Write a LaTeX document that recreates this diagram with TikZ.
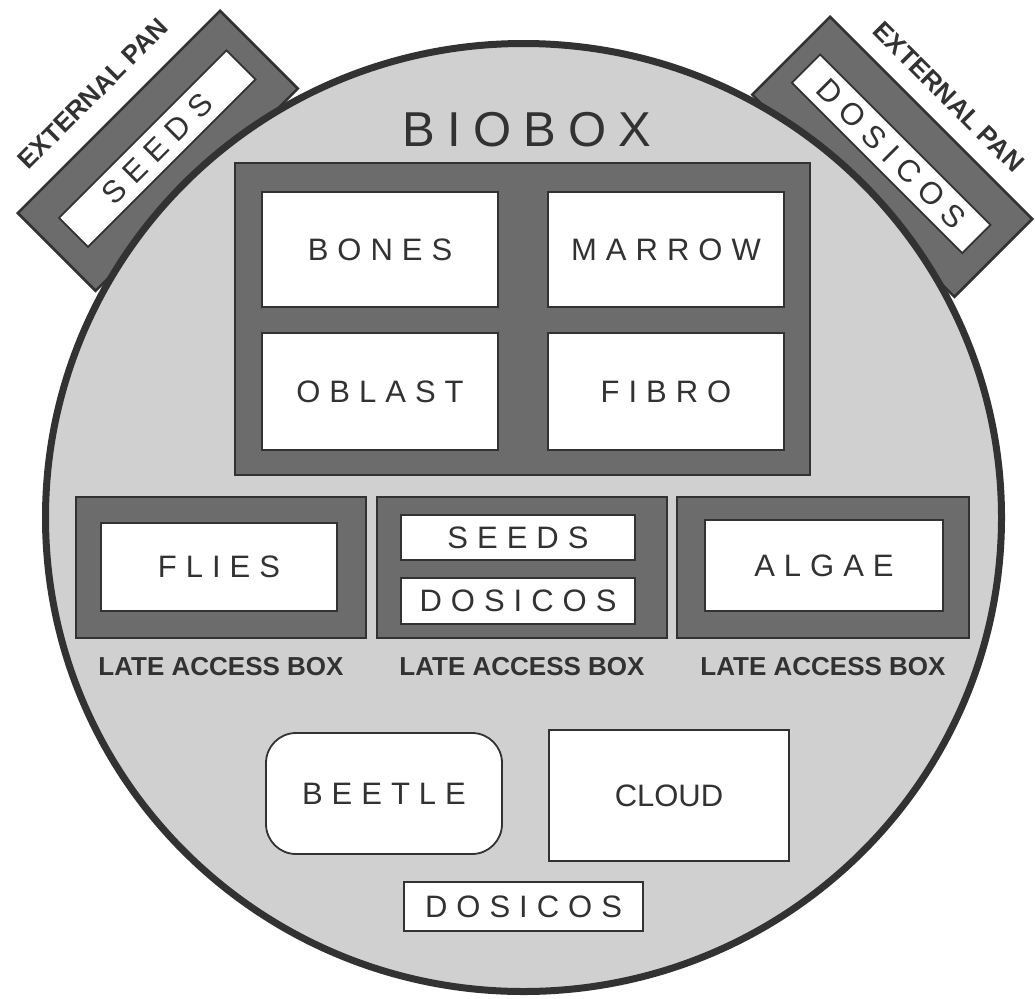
\documentclass[tikz,border=0pt]{standalone}
\usepackage{fontspec}
\setmainfont{Liberation Sans}
\newfontfamily\slotfont[LetterSpace=29]{Liberation Sans}
\newfontfamily\titlefont[LetterSpace=25]{Liberation Sans}
\usetikzlibrary{positioning}
\definecolor{discgray}{RGB}{208,208,208}
\definecolor{framegray}{RGB}{108,108,108}
\definecolor{inkgray}{RGB}{50,50,50}

\begin{document}
\begin{tikzpicture}[x=1pt, y=-1pt,
        disc/.style={draw=inkgray, line width=7pt, fill=discgray},
        frame/.style={rectangle, draw=inkgray, line width=2.5pt, fill=framegray, inner sep=0pt},
        slot/.style={rectangle, draw=inkgray, line width=1.8pt, fill=white, inner sep=0pt,
                     text=inkgray, font=\slotfont\fontsize{31}{31}\selectfont},
        tag/.style={inner sep=0pt, text=inkgray, font=\fontsize{26}{26}\selectfont\bfseries}
      ]
        \useasboundingbox (0,0) rectangle (1035,998);

        % external pans, partly hidden by the disc
        \begin{scope}[shift={(16,213)}, rotate=45, transform shape]
          \node[frame, anchor=north west, minimum width=286, minimum height=110] (leftpan) at (0,0) {};
          \node[slot, anchor=north west, minimum width=237, minimum height=41] (leftslot) at (26,33) {SEEDS};
          \node[tag] (leftname) at (139,-30) {EXTERNAL PAN};
        \end{scope}
        \begin{scope}[shift={(830,15)}, rotate=-45, transform shape]
          \node[frame, anchor=north west, minimum width=286, minimum height=110] (rightpan) at (0,0) {};
          \node[slot, anchor=north west, minimum width=241, minimum height=40] (rightslot) at (20,34) {DOSICOS};
          \node[tag] (rightname) at (142,-26) {EXTERNAL PAN};
        \end{scope}

        \draw[disc] (523.5,517.5) ellipse [x radius=478, y radius=474];
        \node[text=inkgray, font=\titlefont\fontsize{49}{49}\selectfont] (title) at (527,130) {BIOBOX};

        \node[frame, minimum width=575, minimum height=312] (core) at (522.5,319) {};
        \node[slot, minimum width=236, minimum height=115] (bones) at (380,249.5) {BONES};
        \node[slot, minimum width=236, minimum height=115] (marrow) at (666,249.5) {MARROW};
        \node[slot, minimum width=236, minimum height=117] (oblast) at (380,391.5) {OBLAST};
        \node[slot, minimum width=236, minimum height=117] (fibro) at (666,391.5) {FIBRO};

        \node[frame, minimum width=290, minimum height=141] (leftlate) at (221,567.5) {};
        \node[slot, minimum width=236, minimum height=88] (flies) at (219,567) {FLIES};
        \node[frame, minimum width=290, minimum height=141] (midlate) at (522,567.5) {};
        \node[slot, minimum width=234, minimum height=45] (midseeds) at (518,537.5) {SEEDS};
        \node[slot, minimum width=234, minimum height=46] (middosicos) at (518,601) {DOSICOS};
        \node[frame, minimum width=292, minimum height=141] (rightlate) at (823,567.5) {};
        \node[slot, minimum width=238, minimum height=91] (algae) at (824,565.5) {ALGAE};

        \node[tag, below=18pt of leftlate] (leftlatename) {LATE ACCESS BOX};
        \node[tag, below=18pt of midlate] (midlatename) {LATE ACCESS BOX};
        \node[tag, below=18pt of rightlate] (rightlatename) {LATE ACCESS BOX};

        \node[slot, rounded corners=30pt, minimum width=236, minimum height=121] (beetle) at (384,793.5) {BEETLE};
        \node[slot, font=\fontsize{31}{31}\selectfont, minimum width=240, minimum height=131] (cloud) at (669,795.5) {CLOUD};
        \node[slot, minimum width=239, minimum height=49] (lowdosicos) at (523.5,906.5) {DOSICOS};
      \end{tikzpicture}
\end{document}
